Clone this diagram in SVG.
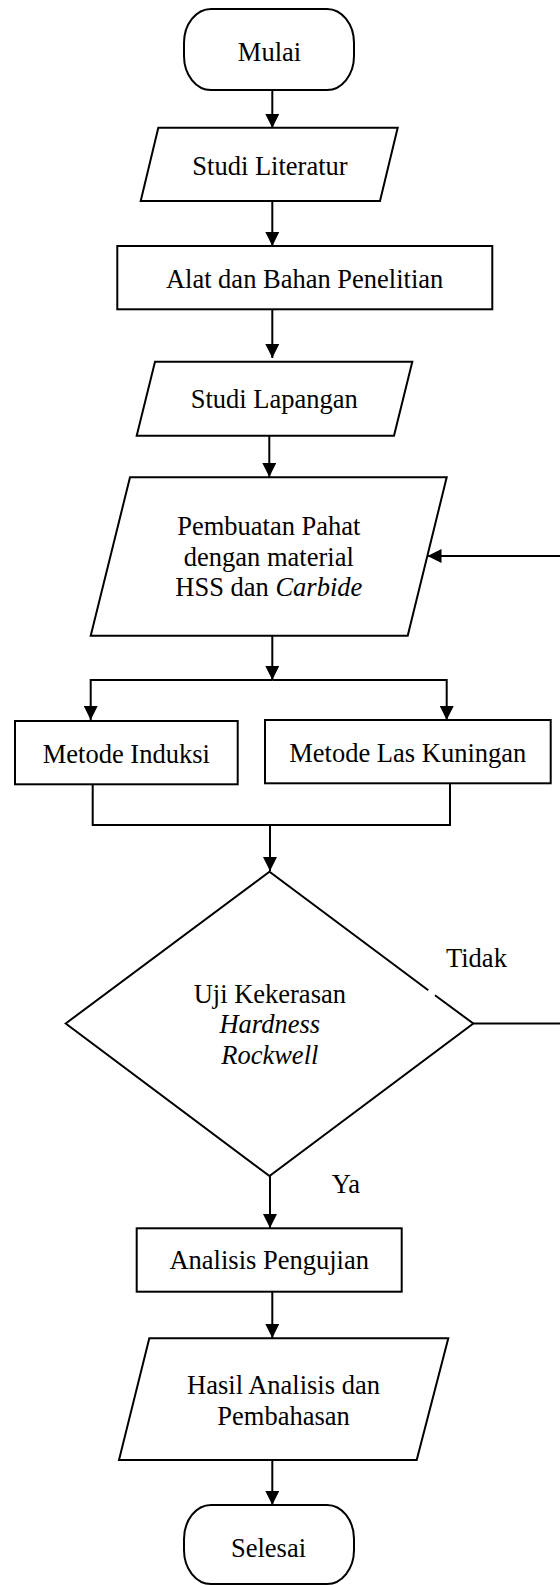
<svg xmlns="http://www.w3.org/2000/svg" width="560" height="1585" viewBox="0 0 560 1585">
<defs>
<marker id="ah" markerUnits="userSpaceOnUse" markerWidth="14" markerHeight="14" refX="14" refY="7" orient="auto">
<path d="M0,0 L14,7 L0,14 z" fill="#000"/>
</marker>
<style>
.s{fill:#fff;stroke:#000;stroke-width:2}
.c{fill:none;stroke:#000;stroke-width:2}
.a{marker-end:url(#ah)}
text{font-family:"Liberation Serif","Times New Roman",serif;font-size:26.5px;fill:#000}
.m{text-anchor:middle}
.i{font-style:italic}
</style>
</defs>
<rect width="560" height="1585" fill="#fff"/>
<g id="connectors">
<line class="c a" x1="272.3" y1="90" x2="272.3" y2="128"/>
<line class="c a" x1="272.3" y1="201" x2="272.3" y2="246"/>
<line class="c a" x1="272.3" y1="309" x2="272.3" y2="358"/>
<line class="c a" x1="269.3" y1="436" x2="269.3" y2="477"/>
<line class="c a" x1="272.3" y1="636" x2="272.3" y2="680"/>
<polyline class="c a" points="272.3,680 90.7,680 90.7,720"/>
<polyline class="c a" points="272.3,680 446.7,680 446.7,720"/>
<polyline class="c" points="92.7,784 92.7,825 450,825 450,783"/>
<line class="c a" x1="270" y1="825" x2="270" y2="871"/>
<line class="c a" x1="270" y1="1176" x2="270" y2="1228"/>
<line class="c a" x1="272.3" y1="1292" x2="272.3" y2="1338"/>
<line class="c a" x1="272.3" y1="1460" x2="272.3" y2="1505"/>
<line class="c" x1="473.3" y1="1023.5" x2="562" y2="1023.5"/>
<line class="c a" x1="562" y1="556" x2="427.5" y2="556"/>
<text x="446" y="966.7">Tidak</text>
<text x="331.7" y="1192.7">Ya</text>
</g>
<g id="mulai">
<rect class="s" x="184" y="9" width="170" height="81" rx="27" ry="34"/>
<text class="m" x="269.5" y="61">Mulai</text>
</g>
<g id="studi-literatur">
<polygon class="s" points="158.3,127.7 397.7,127.7 380,201 140.7,201"/>
<text class="m" x="270" y="175">Studi Literatur</text>
</g>
<g id="alat-bahan">
<rect class="s" x="117.3" y="246" width="375" height="63.3"/>
<text class="m" x="304.6" y="288.3">Alat dan Bahan Penelitian</text>
</g>
<g id="studi-lapangan">
<polygon class="s" points="155,361.7 412.3,361.7 394,435.7 136.7,435.7"/>
<text class="m" x="274.3" y="408.3">Studi Lapangan</text>
</g>
<g id="pembuatan">
<polygon class="s" points="130,477.3 446.7,477.3 407.7,635.7 90.7,635.7"/>
<text class="m" x="268.8" y="535">Pembuatan Pahat</text>
<text class="m" x="268.8" y="565.7">dengan material</text>
<text class="m" x="268.8" y="596">HSS dan <tspan class="i">Carbide</tspan></text>
</g>
<g id="metode-induksi">
<rect class="s" x="15" y="721" width="222.7" height="63.3"/>
<text class="m" x="126.3" y="762.7">Metode Induksi</text>
</g>
<g id="metode-las">
<rect class="s" x="265" y="720" width="285.7" height="63.3"/>
<text class="m" x="407.8" y="762">Metode Las Kuningan</text>
</g>
<g id="uji-kekerasan">
<polygon points="269.5,871.7 473.3,1023.5 269.5,1176 65.7,1023.5" fill="#fff" stroke="none"/>
<path class="c" d="M428.3,990.3 L269.5,871.7 L65.7,1023.5 L269.5,1176 L473.3,1023.5 L435,995.3"/>
<text class="m" x="269.8" y="1002.7">Uji Kekerasan</text>
<text class="m i" x="269.8" y="1033.3">Hardness</text>
<text class="m i" x="269.8" y="1064">Rockwell</text>
</g>
<g id="analisis">
<rect class="s" x="136.7" y="1228.3" width="265" height="63.4"/>
<text class="m" x="269.2" y="1269.3">Analisis Pengujian</text>
</g>
<g id="hasil">
<polygon class="s" points="149.3,1338.3 448.3,1338.3 416.7,1460 119,1460"/>
<text class="m" x="283.5" y="1394">Hasil Analisis dan</text>
<text class="m" x="283.5" y="1425">Pembahasan</text>
</g>
<g id="selesai">
<rect class="s" x="184" y="1505" width="170" height="79" rx="27" ry="34"/>
<text class="m" x="268.5" y="1556.7">Selesai</text>
</g>
</svg>
